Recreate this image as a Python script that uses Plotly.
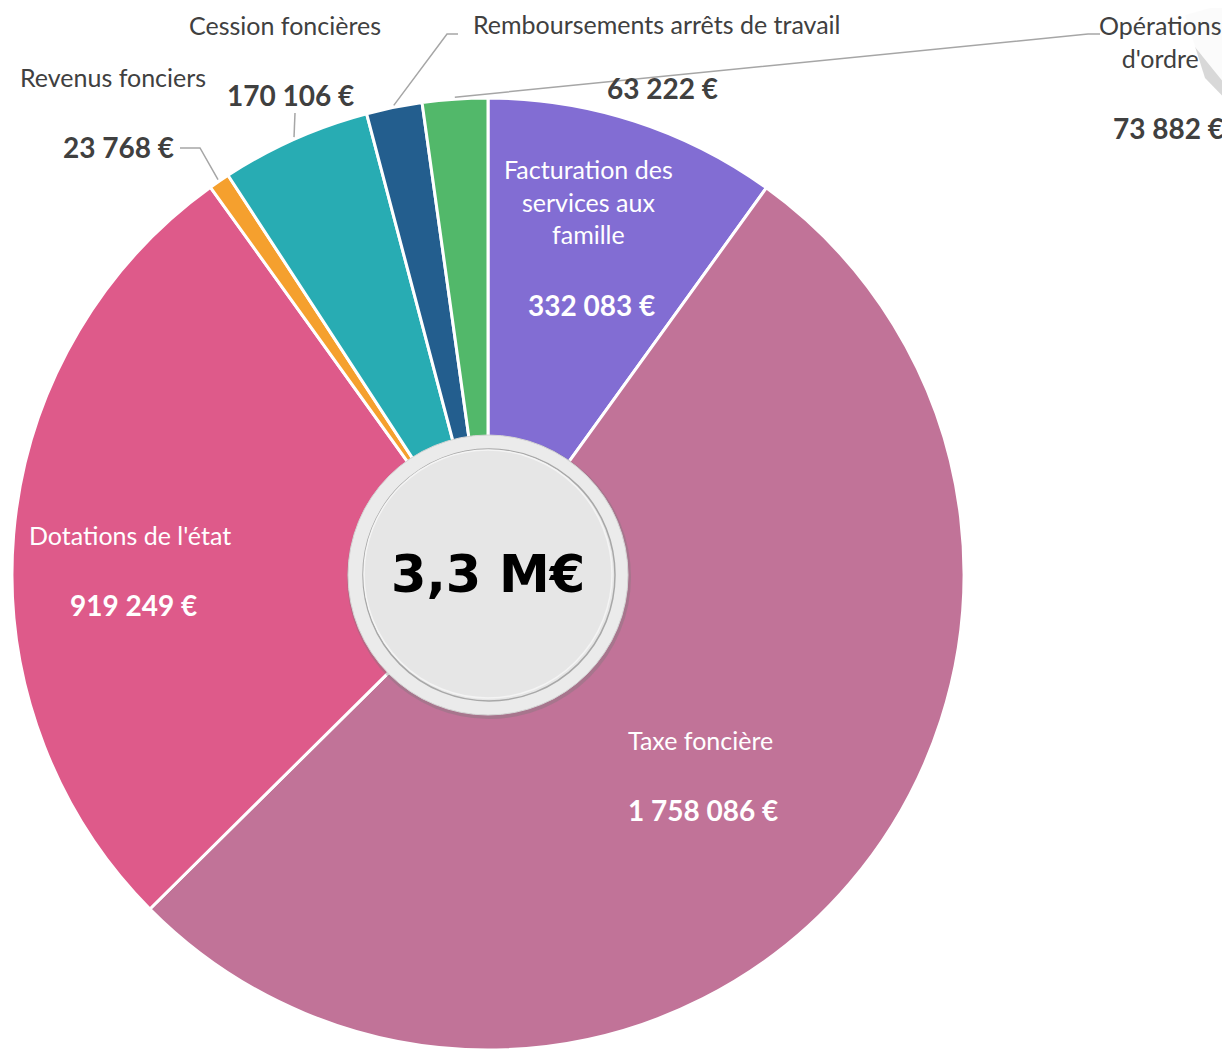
import math
import plotly.graph_objects as go

# ---- data ----
labels = ["Facturation des services aux famille", "Taxe foncière", "Dotations de l'état",
          "Revenus fonciers", "Cession foncières", "Remboursements arrêts de travail",
          "Opérations d'ordre"]
values = [332083, 1758086, 919249, 23768, 170106, 63222, 73882]
value_text = ["332 083 €", "1 758 086 €", "919 249 €", "23 768 €", "170 106 €", "63 222 €", "73 882 €"]
colors = ["#826DD3", "#C17398", "#DE5A8A", "#F5A02E", "#28ACB3", "#235E8E", "#52B86A"]
center_text = "3,3 M€"

W, H = 1230, 1054
OFF = 8  # page body margin
CX, CY, R = 488, 574, 476


def px(x):
    return (x - OFF) / W


def py(y):
    return 1 - (y - OFF) / H


fig = go.Figure(go.Pie(
    labels=labels, values=values, sort=False, direction="clockwise", rotation=0,
    hole=0.28, textinfo="none", hoverinfo="label+value",
    marker=dict(colors=colors, line=dict(color="white", width=3)),
    domain=dict(x=[px(CX - R), px(CX + R)], y=[py(CY + R), py(CY - R)]),
    showlegend=False,
))

# label placement (layout, in pixels)
inside = {
    0: ("Facturation des<br>services aux<br>famille", (588, 201), (591, 305)),
    1: ("Taxe foncière", (700, 740), (703, 810)),
    2: ("Dotations de l'état", (130, 535), (133, 605)),
}
outside = {
    3: ("Revenus fonciers", (113, 77), (118, 147), [(200, 148), (180, 148)]),
    4: ("Cession foncières", (285, 25), (290, 95), [(295, 113)]),
    5: ("Remboursements arrêts de travail", (657, 24), (662, 88), [(447, 34), (458, 34)]),
    6: ("Opérations<br>d'ordre", (1160, 42), (1168, 128), [(1088, 34), (1100, 34)]),
}

FONT = "Lato, 'Open Sans', sans-serif"
NAME_SIZE = 25
VAL_SIZE = 28
annotations = []
shapes = []

for i, (name, (nx, ny), (vx, vy)) in inside.items():
    annotations.append(dict(x=px(nx), y=py(ny), xref="paper", yref="paper", text=name,
                            showarrow=False, font=dict(family=FONT, size=NAME_SIZE, color="white"),
                            xanchor="center", yanchor="middle", align="center", borderpad=0))
    annotations.append(dict(x=px(vx), y=py(vy), xref="paper", yref="paper",
                            text="<b>" + value_text[i] + "</b>", borderpad=0,
                            showarrow=False, font=dict(family=FONT, size=VAL_SIZE, color="white"),
                            xanchor="center", yanchor="middle"))

total = sum(values)
cum = 0
mids = []
for v in values:
    mids.append((cum + v / 2) / total * 360)
    cum += v

for i, (name, (nx, ny), (vx, vy), pts) in outside.items():
    annotations.append(dict(x=px(nx), y=py(ny), xref="paper", yref="paper", text=name,
                            showarrow=False, font=dict(family=FONT, size=NAME_SIZE, color="#404040"),
                            xanchor="center", yanchor="middle", align="center", borderpad=0))
    annotations.append(dict(x=px(vx), y=py(vy), xref="paper", yref="paper",
                            text="<b>" + value_text[i] + "</b>", borderpad=0,
                            showarrow=False, font=dict(family=FONT, size=VAL_SIZE, color="#404040"),
                            xanchor="center", yanchor="middle"))
    th = math.radians(mids[i])
    sx, sy = CX + (R + 2) * math.sin(th), CY - (R + 2) * math.cos(th)
    path = "M %f %f" % (px(sx), py(sy))
    for (x, y) in pts:
        path += " L %f %f" % (px(x), py(y))
    shapes.append(dict(type="path", path=path, xref="paper", yref="paper",
                       line=dict(color="#A6A6A6", width=1.5), layer="above"))

# center badge
def circle(r, dx=0, dy=0, fill="#E6E6E6", line="#D0D0D0", lw=1):
    return dict(type="circle", xref="paper", yref="paper", layer="above",
                x0=px(CX + dx - r), x1=px(CX + dx + r),
                y0=py(CY + dy + r), y1=py(CY + dy - r),
                fillcolor=fill, line=dict(color=line, width=lw))

shapes.append(circle(142, 1, 3, fill="rgba(120,120,120,0.35)", line="rgba(0,0,0,0)", lw=0))
shapes.append(circle(140, 0, 1, fill="#EBEBEB", line="#D5D5D5", lw=1))
shapes.append(circle(126, 1, 1, fill="#E6E6E6", line="#A8A8A8", lw=1.5))
shapes.append(circle(124, 0, 0, fill="#E6E6E6", line="#F4F4F4", lw=1.5))

annotations.append(dict(x=px(CX), y=py(CY), xref="paper", yref="paper",
                        text="<b>" + center_text + "</b>", showarrow=False,
                        font=dict(family="DejaVu Sans", size=51, color="black"),
                        xanchor="center", yanchor="middle"))

# top-right corner decoration
shapes.append(dict(type="path", xref="paper", yref="paper", layer="above",
                   path="M %f %f L %f %f L %f %f L %f %f Z" % (px(1185), py(15), px(1238), py(0),
                                                             px(1238), py(112), px(1205), py(78)),
                   fillcolor="rgba(190,190,190,0.6)", line=dict(width=0)))
shapes.append(dict(type="path", xref="paper", yref="paper", layer="above",
                   path="M %f %f L %f %f L %f %f Z" % (px(1157), py(0), px(1222), py(0),
                                                      px(1228), py(88)),
                   fillcolor="rgba(255,255,255,0.9)", line=dict(width=0)))

fig.update_layout(width=W, height=H, margin=dict(l=0, r=0, t=0, b=0),
                  paper_bgcolor="white", plot_bgcolor="white",
                  annotations=annotations, shapes=shapes)

fig.write_html("out.html")
